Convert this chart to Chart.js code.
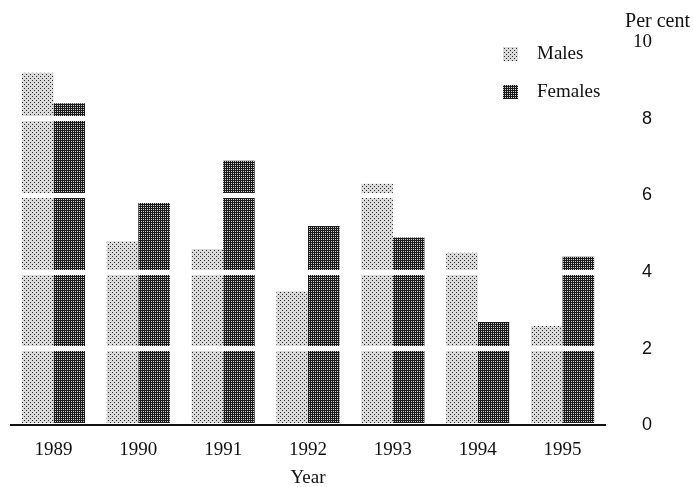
<!DOCTYPE html>
<html>
<head>
<meta charset="utf-8">
<script src="https://cdn.jsdelivr.net/npm/chart.js@4.4.1/dist/chart.umd.min.js"></script>
<style>
  html, body { margin: 0; padding: 0; background: #fff; }
  #wrap { width: 693px; height: 487px; }
</style>
</head>
<body>
<div id="wrap"><canvas id="grafica"></canvas></div>
<script>
// Data
const anys = ['1989', '1990', '1991', '1992', '1993', '1994', '1995'];
const homes = [9.2, 4.8, 4.6, 3.5, 6.3, 4.5, 2.6];   // Males
const dones = [8.4, 5.8, 6.9, 5.2, 4.9, 2.7, 4.4];   // Females
const ticsY = [0, 2, 4, 6, 8, 10];

// Small dotted tile used as a fill pattern
function crearPatro(fons, punt, punts) {
    const c = document.createElement('canvas');
    c.width = 4; c.height = 4;
    const g = c.getContext('2d');
    g.fillStyle = fons;
    g.fillRect(0, 0, 4, 4);
    g.fillStyle = punt;
    punts.forEach(p => g.fillRect(p[0], p[1], 1, 1));
    return g.createPattern(c, 'repeat');
}

const ctx = document.getElementById('grafica').getContext('2d');
const patroHomes = crearPatro('#dadada', '#2a2a2a', [[0, 0], [2, 2]]);
const patroDones = crearPatro('#1a1a1a', '#d0d0d0', [[1, 1], [3, 3], [3, 1], [1, 3]]);

// Legend and "Per cent" label drawn by hand
const llegenda = {
    id: 'llegenda',
    afterDraw(chart) {
        const g = chart.ctx;
        g.save();
        g.textBaseline = 'middle';
        g.fillStyle = '#111';
        g.font = '20px "Liberation Serif"';
        g.textAlign = 'right';
        g.fillText('Per cent', 690, 22);
        g.textAlign = 'left';
        g.font = '19px "Liberation Serif"';
        const files = [{ y: 54 }, { y: 92 }];
        chart.data.datasets.forEach((ds, i) => {
            g.fillStyle = ds.backgroundColor;
            g.fillRect(503, files[i].y - 7, 15, 14);
            g.fillStyle = '#111';
            g.fillText(ds.label, 537, files[i].y);
        });
        g.restore();
    }
};

new Chart(ctx, {
    type: 'bar',
    data: {
        labels: anys,
        datasets: [
            { label: 'Males', data: homes, backgroundColor: patroHomes, borderWidth: 0 },
            { label: 'Females', data: dones, backgroundColor: patroDones, borderWidth: 0 }
        ]
    },
    options: {
        responsive: true,
        maintainAspectRatio: false,
        animation: false,
        layout: { padding: { left: 11, right: 41, top: 42, bottom: -2 } },
        plugins: {
            legend: { display: false },
            tooltip: { enabled: false }
        },
        datasets: {
            bar: { categoryPercentage: 0.744, barPercentage: 1.0 }
        },
        scales: {
            x: {
                grid: { display: false, drawTicks: false },
                border: { display: true, color: '#111', width: 2 },
                ticks: {
                    color: '#111',
                    padding: 13,
                    font: { family: 'Liberation Serif', size: 19 }
                },
                title: {
                    display: true,
                    text: 'Year',
                    color: '#111',
                    padding: { top: -8, bottom: 0 },
                    font: { family: 'Liberation Serif', size: 19 }
                }
            },
            y: {
                position: 'right',
                min: 0,
                max: 10,
                afterBuildTicks: axis => { axis.ticks = ticsY.map(v => ({ value: v })); },
                afterFit: axis => { axis.width = 47; },
                grid: {
                    z: 1,
                    drawTicks: false,
                    lineWidth: 5,
                    color: c => (c.tick && (c.tick.value === 0 || c.tick.value === 10)) ? 'rgba(0,0,0,0)' : '#fff'
                },
                border: { display: false },
                ticks: {
                    color: '#111',
                    padding: 1,
                    crossAlign: 'far',
                    font: c => (c.tick && c.tick.value === 10)
                        ? { family: 'Liberation Serif', size: 19 }
                        : { family: 'Liberation Sans', size: 18 }
                }
            }
        }
    },
    plugins: [llegenda]
});
</script>
</body>
</html>
